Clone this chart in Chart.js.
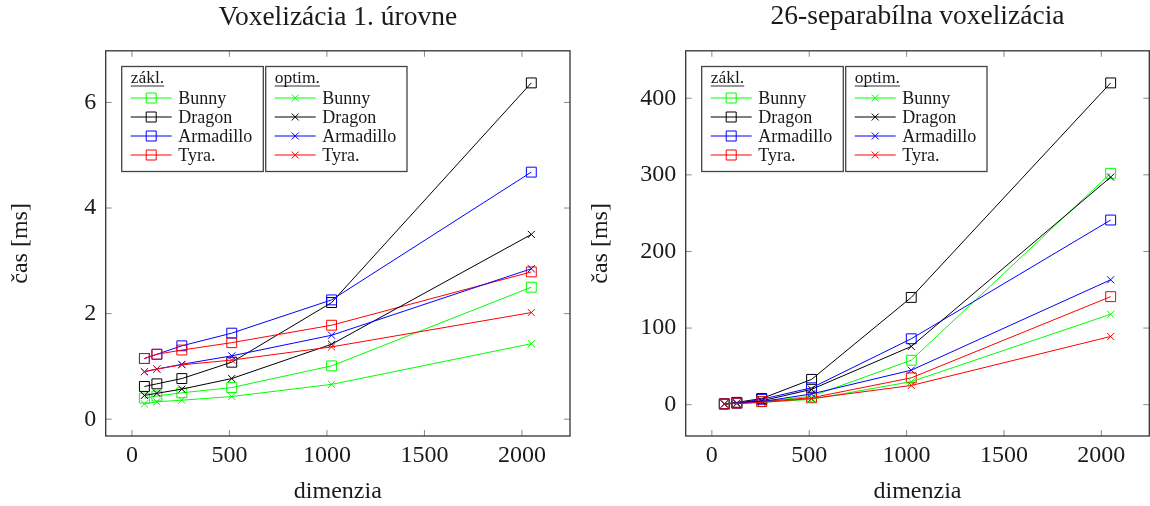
<!DOCTYPE html>
<html>
<head>
<meta charset="utf-8">
<script src="https://cdn.jsdelivr.net/npm/chart.js@4.4.1/dist/chart.umd.min.js"></script>
<style>
  body { margin: 0; background: #fff; }
  .wrap { position: absolute; top: 0; }
</style>
</head>
<body>
<div class="wrap" style="left:0"><canvas id="chartLevel1" width="575" height="506"></canvas></div>
<div class="wrap" style="left:575px"><canvas id="chartSep26" width="575" height="506"></canvas></div>
<script>
const dims = [64, 128, 256, 512, 1024, 2048]
const models = ['Bunny', 'Dragon', 'Armadillo', 'Tyra.']
const modelColors = ['#00ff00', '#000000', '#0000ff', '#ff0000']
const groupTitles = ['zákl.', 'optim.']
const xTicks = [0, 500, 1000, 1500, 2000]

// Voxelizácia 1. úrovne
const lvl1BaseBunny      = [0.40, 0.44, 0.50, 0.60, 1.01, 2.50]
const lvl1BaseDragon     = [0.62, 0.67, 0.77, 1.08, 2.21, 6.37]
const lvl1BaseArmadillo  = [1.15, 1.23, 1.39, 1.63, 2.26, 4.68]
const lvl1BaseTyra       = [1.15, 1.23, 1.31, 1.45, 1.78, 2.79]
const lvl1OptBunny       = [0.29, 0.33, 0.36, 0.43, 0.66, 1.43]
const lvl1OptDragon      = [0.45, 0.49, 0.57, 0.77, 1.42, 3.50]
const lvl1OptArmadillo   = [0.90, 0.95, 1.04, 1.20, 1.59, 2.85]
const lvl1OptTyra        = [0.90, 0.95, 1.03, 1.12, 1.37, 2.02]
const lvl1YTicks = [0, 2, 4, 6]

// 26-separabilna voxelizacia
const sepBaseBunny       = [1, 2, 4, 11, 58, 302]
const sepBaseDragon      = [1, 3, 8, 33, 140, 420]
const sepBaseArmadillo   = [1, 2, 7, 22, 86, 241]
const sepBaseTyra        = [1, 2, 4, 9, 35, 141]
const sepOptBunny        = [1, 1.5, 3, 7, 30, 118]
const sepOptDragon       = [1, 2, 5, 20, 76, 297]
const sepOptArmadillo    = [1, 2, 4, 14, 45, 163]
const sepOptTyra         = [1, 1.5, 3, 8, 25, 89]
const sepYTicks = [0, 100, 200, 300, 400]

const FONT = 'Liberation Serif'
const TEXT = '#1a1a1a'

Chart.defaults.font.family = FONT
Chart.defaults.color = TEXT

// pgfplots style: 10% enlarged limits around the data
function enlarged(values) {
  const lo = Math.min(...values)
  const hi = Math.max(...values)
  const pad = (hi - lo) * 0.1
  return { min: lo - pad, max: hi + pad }
}

function makeDatasets(baseSeries, optSeries) {
  const sets = []
  const all = [baseSeries, optSeries]
  all.forEach((series, g) => {
    series.forEach((values, i) => {
      sets.push({
        label: models[i],
        group: g,
        data: values.map((v, k) => ({ x: dims[k], y: v })),
        borderColor: modelColors[i],
        backgroundColor: modelColors[i],
        borderWidth: 1,
        pointStyle: g === 0 ? 'rect' : 'crossRot',
        pointRadius: g === 0 ? 7 : 5,
        pointBorderWidth: 1,
        pointBorderColor: modelColors[i],
        pointBackgroundColor: 'rgba(0,0,0,0)',
        tension: 0,
        order: -sets.length
      })
    })
  })
  return sets
}

// box round the plot with inward ticks on all sides
const framePlugin = {
  id: 'frame',
  beforeDatasetsDraw(chart) {
    const { ctx, chartArea: ca, scales } = chart
    ctx.save()
    ctx.strokeStyle = '#8a8a8a'
    ctx.lineWidth = 1
    ctx.beginPath()
    scales.x.ticks.forEach(t => {
      const px = scales.x.getPixelForValue(t.value)
      ctx.moveTo(px, ca.bottom); ctx.lineTo(px, ca.bottom - 6)
      ctx.moveTo(px, ca.top); ctx.lineTo(px, ca.top + 6)
    })
    scales.y.ticks.forEach(t => {
      const py = scales.y.getPixelForValue(t.value)
      ctx.moveTo(ca.left, py); ctx.lineTo(ca.left + 6, py)
      ctx.moveTo(ca.right, py); ctx.lineTo(ca.right - 6, py)
    })
    ctx.stroke()
    ctx.strokeStyle = '#333'
    ctx.lineWidth = 1.3
    ctx.strokeRect(ca.left, ca.top, ca.right - ca.left, ca.bottom - ca.top)
    ctx.restore()
  }
}

// two framed legends: base ("zákl.") and optimized ("optim.")
const groupLegendPlugin = {
  id: 'groupLegend',
  afterDatasetsDraw(chart) {
    const { ctx, chartArea: ca } = chart
    const boxes = [
      { left: ca.left + 16, width: 141.6 },
      { left: ca.left + 160, width: 141.3 }
    ]
    const top = ca.top + 15.7
    const height = 105
    const rows = [31.5, 50.5, 69.5, 88.5]
    ctx.save()
    boxes.forEach((box, g) => {
      ctx.fillStyle = '#fff'
      ctx.fillRect(box.left, top, box.width, height)
      ctx.strokeStyle = '#444'
      ctx.lineWidth = 1.3
      ctx.strokeRect(box.left, top, box.width, height)

      ctx.font = `17.5px "${FONT}"`
      ctx.fillStyle = TEXT
      ctx.textAlign = 'left'
      ctx.textBaseline = 'alphabetic'
      const tx = box.left + 9
      ctx.fillText(groupTitles[g], tx, top + 16.5)
      const tw = ctx.measureText(groupTitles[g]).width
      ctx.strokeStyle = TEXT
      ctx.lineWidth = 0.9
      ctx.beginPath()
      ctx.moveTo(tx, top + 19.5); ctx.lineTo(tx + tw, top + 19.5)
      ctx.stroke()

      const sets = chart.data.datasets.filter(d => d.group === g)
      sets.forEach((ds, i) => {
        const y = top + rows[i]
        const x0 = box.left + 9
        const x1 = box.left + 50
        const mx = (x0 + x1) / 2
        ctx.strokeStyle = ds.borderColor
        ctx.lineWidth = 1
        ctx.beginPath()
        ctx.moveTo(x0, y); ctx.lineTo(x1, y)
        if (ds.pointStyle === 'rect') {
          ctx.rect(mx - 5, y - 5, 10, 10)
        } else {
          ctx.moveTo(mx - 3.5, y - 3.5); ctx.lineTo(mx + 3.5, y + 3.5)
          ctx.moveTo(mx - 3.5, y + 3.5); ctx.lineTo(mx + 3.5, y - 3.5)
        }
        ctx.stroke()
        ctx.fillStyle = TEXT
        ctx.textBaseline = 'middle'
        ctx.font = `18px "${FONT}"`
        ctx.fillText(ds.label, box.left + 56.6, y + 1)
      })
    })
    ctx.restore()
  }
}

function makeChart(canvasId, cfg) {
  const xr = enlarged(dims)
  const allY = [...cfg.base.flat(), ...cfg.opt.flat()]
  const yr = enlarged(allY)
  return new Chart(document.getElementById(canvasId), {
    type: 'line',
    data: { datasets: makeDatasets(cfg.base, cfg.opt) },
    plugins: [framePlugin, groupLegendPlugin],
    options: {
      responsive: false,
      animation: false,
      layout: {
        autoPadding: false,
        padding: { left: 0, right: cfg.padRight, top: 0, bottom: 0 }
      },
      plugins: {
        legend: { display: false },
        tooltip: { enabled: false },
        title: {
          display: true,
          text: cfg.title,
          fullSize: false,
          color: TEXT,
          font: { size: 27.5, weight: 'normal' },
          padding: cfg.titlePad
        }
      },
      scales: {
        x: {
          type: 'linear',
          min: xr.min,
          max: xr.max,
          afterBuildTicks: s => { s.ticks = xTicks.map(v => ({ value: v })) },
          afterFit: s => {
            s.height = 70
            s.paddingLeft = 0
            s.paddingRight = 0
          },
          ticks: {
            font: { size: 24 },
            padding: 5,
            color: TEXT,
            callback: v => String(v)
          },
          grid: { display: false, drawTicks: false },
          border: { display: false },
          title: {
            display: true,
            text: 'dimenzia',
            color: TEXT,
            font: { size: 24 },
            padding: { top: 0, bottom: 0 }
          }
        },
        y: {
          type: 'linear',
          min: yr.min,
          max: yr.max,
          afterBuildTicks: s => { s.ticks = cfg.yTicks.map(v => ({ value: v })) },
          afterFit: s => {
            s.width = cfg.yWidth
            s.paddingTop = 0
            s.paddingBottom = 0
          },
          ticks: {
            font: { size: 24 },
            padding: 9.5,
            color: TEXT,
            callback: v => String(v)
          },
          grid: { display: false, drawTicks: false },
          border: { display: false },
          title: {
            display: true,
            text: 'čas [ms]',
            color: TEXT,
            font: { size: 24 },
            padding: { top: cfg.yTitlePad, bottom: 0 }
          }
        }
      }
    }
  })
}

makeChart('chartLevel1', {
  title: 'Voxelizácia 1. úrovne',
  titlePad: { top: 1.6, bottom: 16.2 },
  base: [lvl1BaseBunny, lvl1BaseDragon, lvl1BaseArmadillo, lvl1BaseTyra],
  opt: [lvl1OptBunny, lvl1OptDragon, lvl1OptArmadillo, lvl1OptTyra],
  yTicks: lvl1YTicks,
  yWidth: 105.7,
  yTitlePad: 6,
  padRight: 5
})

makeChart('chartSep26', {
  title: '26-separabílna voxelizácia',
  titlePad: { top: 0, bottom: 17.8 },
  base: [sepBaseBunny, sepBaseDragon, sepBaseArmadillo, sepBaseTyra],
  opt: [sepOptBunny, sepOptDragon, sepOptArmadillo, sepOptTyra],
  yTicks: sepYTicks,
  yWidth: 110.7,
  yTitlePad: 11,
  padRight: 0.7
})
</script>
</body>
</html>
